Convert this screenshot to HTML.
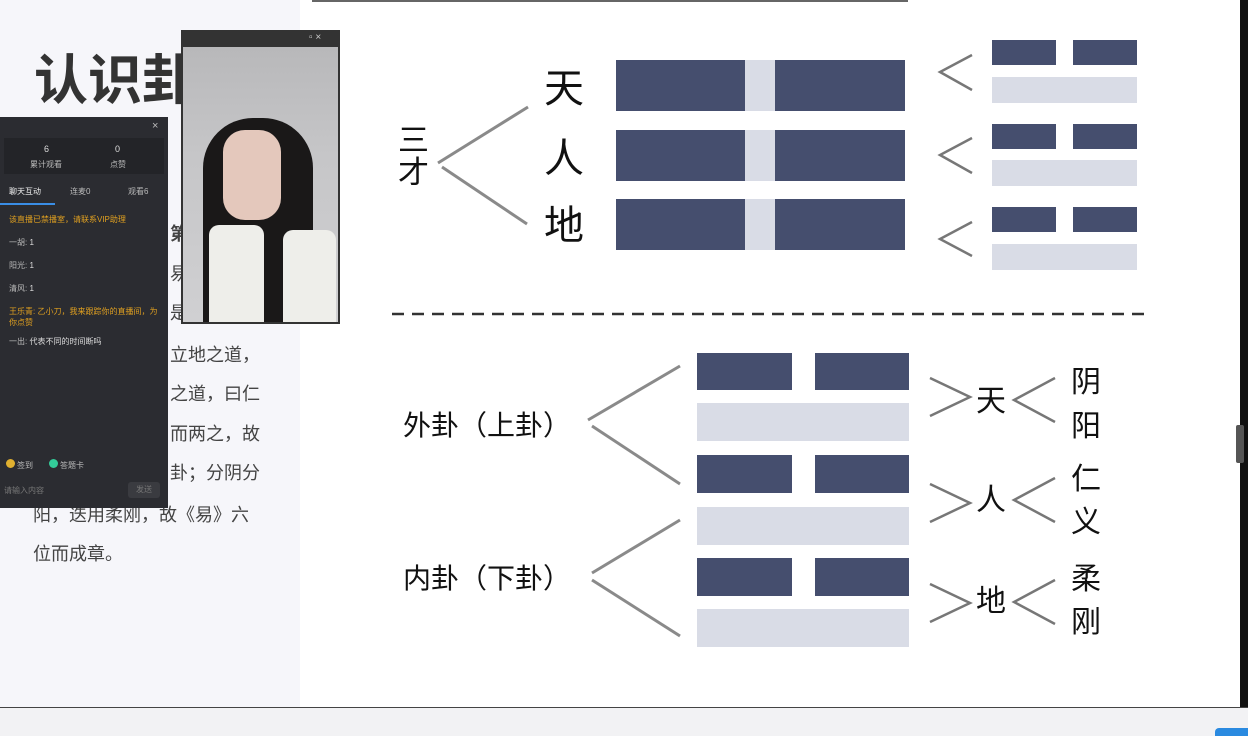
<!DOCTYPE html>
<html><head><meta charset="utf-8"><style>
*{margin:0;padding:0;box-sizing:border-box}
body{width:1248px;height:736px;position:relative;overflow:hidden;background:#fff;font-family:"Liberation Sans","Noto Sans CJK SC",sans-serif}
.a{position:absolute}
.d{position:absolute;background:#454e6e}
.l{position:absolute;background:#d9dce6}
.t{position:absolute;color:#111;white-space:nowrap;line-height:1}
.bt{position:absolute;color:#444;font-size:18px;white-space:nowrap;line-height:1}
</style></head><body>
<div class="a" style="left:0;top:0;width:300px;height:708px;background:#f6f6fa"></div>
<div class="a" style="left:312px;top:0;width:596px;height:2px;background:#666"></div>
<div class="a" style="left:1240px;top:0;width:8px;height:708px;background:#111"></div>
<div class="a" style="left:1236px;top:425px;width:8px;height:38px;background:#555;border-radius:2px"></div>
<div class="a" style="left:0;top:707px;width:1248px;height:29px;background:#f2f2f4;border-top:1px solid #444"></div>
<div class="a" style="left:1215px;top:728px;width:33px;height:8px;background:#2a8ae0;border-radius:4px 0 0 0"></div>

<div class="t" style="left:34px;top:54px;font-size:54px;font-weight:bold;color:#333">认识卦</div>
<div class="bt" style="left:170px;top:346px">立地之道，</div>
<div class="bt" style="left:170px;top:385px">之道，曰仁</div>
<div class="bt" style="left:170px;top:425px">而两之，故</div>
<div class="bt" style="left:170px;top:464px">卦；分阴分</div>
<div class="bt" style="left:33px;top:506px">阳，迭用柔刚，故《易》六</div>
<div class="bt" style="left:33px;top:545px">位而成章。</div>
<div class="bt" style="left:170px;top:265px">易</div>
<div class="bt" style="left:170px;top:304px">是</div>
<div class="bt" style="left:170px;top:225px;font-weight:bold">第</div>

<div class="a" style="left:0;top:117px;width:168px;height:391px;background:#2b2c31;color:#bbb;font-size:8px">
 <div class="a" style="left:152px;top:3px;font-size:11px">×</div>
 <div class="a" style="left:4px;top:21px;width:160px;height:36px;background:#232428"></div>
 <div class="a" style="left:44px;top:27px;color:#ddd;font-size:9px">6</div>
 <div class="a" style="left:30px;top:42px">累计观看</div>
 <div class="a" style="left:115px;top:27px;color:#ddd;font-size:9px">0</div>
 <div class="a" style="left:110px;top:42px">点赞</div>
 <div class="a" style="left:9px;top:69px;color:#eee">聊天互动</div>
 <div class="a" style="left:70px;top:69px">连麦0</div>
 <div class="a" style="left:128px;top:69px">观看6</div>
 <div class="a" style="left:0;top:86px;width:55px;height:2px;background:#3a8ee6"></div>
 <div class="a" style="left:9px;top:97px;color:#e0a020">该直播已禁播室，请联系VIP助理</div>
 <div class="a" style="left:9px;top:120px">一胡: <span style="color:#ddd">1</span></div>
 <div class="a" style="left:9px;top:143px">阳光: <span style="color:#ddd">1</span></div>
 <div class="a" style="left:9px;top:166px">清风: <span style="color:#ddd">1</span></div>
 <div class="a" style="left:9px;top:189px;color:#e0a020;width:150px;white-space:normal">王乐青: 乙小刀，我来跟踪你的直播间，为你点赞</div>
 <div class="a" style="left:9px;top:219px">一出: <span style="color:#ddd">代表不同的时间断吗</span></div>
 <div class="a" style="left:6px;top:342px;width:9px;height:9px;border-radius:50%;background:#e0b030"></div>
 <div class="a" style="left:17px;top:343px">签到</div>
 <div class="a" style="left:49px;top:342px;width:9px;height:9px;border-radius:50%;background:#3c9"></div>
 <div class="a" style="left:60px;top:343px">答题卡</div>
 <div class="a" style="left:4px;top:368px;color:#777">请输入内容</div>
 <div class="a" style="left:128px;top:365px;width:32px;height:16px;background:#3a3b40;border-radius:3px;color:#777;text-align:center;line-height:16px">发送</div>
</div>

<div class="a" style="left:181px;top:30px;width:159px;height:294px;background:#333">
 <div class="a" style="left:128px;top:2px;color:#ccc;font-size:10px">▫ ×</div>
 <div class="a" style="left:2px;top:17px;width:155px;height:275px;background:linear-gradient(#b8b8ba,#c6c6c8 40%,#d0d0d2)"></div>
 <div class="a" style="left:22px;top:88px;width:110px;height:204px;background:#1a1818;border-radius:50px 50px 0 0"></div>
 <div class="a" style="left:42px;top:100px;width:58px;height:90px;background:#e4c8bc;border-radius:22px"></div>
 <div class="a" style="left:28px;top:195px;width:55px;height:97px;background:#eeeeea;border-radius:10px 10px 0 0"></div>
 <div class="a" style="left:102px;top:200px;width:53px;height:92px;background:#eeeeea;border-radius:10px 10px 0 0"></div>
</div>

<!-- top section -->
<div class="t" style="left:398px;top:125px;font-size:31px;line-height:32px;width:32px">三<br>才</div>
<svg class="a" style="left:0;top:0" width="1248" height="708">
 <g stroke="#8a8a8a" stroke-width="3" fill="none">
  <line x1="438" y1="163" x2="528" y2="107"/><line x1="442" y1="167" x2="527" y2="224"/>
  <line x1="588" y1="420" x2="680" y2="366"/><line x1="592" y1="426" x2="680" y2="484"/>
  <line x1="592" y1="573" x2="680" y2="520"/><line x1="592" y1="580" x2="680" y2="636"/>
 </g>
 <g stroke="#777" stroke-width="2.5" fill="none">
  <polyline points="972,55 940,72 972,90"/><polyline points="972,138 940,155 972,173"/><polyline points="972,222 940,239 972,256"/>
  <polyline points="930,378 970,397 930,416"/><polyline points="930,484 970,503 930,522"/><polyline points="930,584 970,603 930,622"/>
  <polyline points="1055,378 1014,400 1055,422"/><polyline points="1055,478 1014,500 1055,522"/><polyline points="1055,580 1014,602 1055,624"/>
 </g>
 <line x1="392" y1="314" x2="1152" y2="314" stroke="#333" stroke-width="2.5" stroke-dasharray="12 8"/>
</svg>
<div class="t" style="left:544px;top:69px;font-size:40px">天</div>
<div class="t" style="left:544px;top:139px;font-size:40px">人</div>
<div class="t" style="left:544px;top:206px;font-size:40px">地</div>

<div class="d" style="left:616px;top:60px;width:129px;height:51px"></div><div class="l" style="left:745px;top:60px;width:30px;height:51px"></div><div class="d" style="left:775px;top:60px;width:130px;height:51px"></div>
<div class="d" style="left:616px;top:130px;width:129px;height:51px"></div><div class="l" style="left:745px;top:130px;width:30px;height:51px"></div><div class="d" style="left:775px;top:130px;width:130px;height:51px"></div>
<div class="d" style="left:616px;top:199px;width:129px;height:51px"></div><div class="l" style="left:745px;top:199px;width:30px;height:51px"></div><div class="d" style="left:775px;top:199px;width:130px;height:51px"></div>

<div class="d" style="left:992px;top:40px;width:64px;height:25px"></div><div class="d" style="left:1073px;top:40px;width:64px;height:25px"></div><div class="l" style="left:992px;top:77px;width:145px;height:26px"></div>
<div class="d" style="left:992px;top:124px;width:64px;height:25px"></div><div class="d" style="left:1073px;top:124px;width:64px;height:25px"></div><div class="l" style="left:992px;top:160px;width:145px;height:26px"></div>
<div class="d" style="left:992px;top:207px;width:64px;height:25px"></div><div class="d" style="left:1073px;top:207px;width:64px;height:25px"></div><div class="l" style="left:992px;top:244px;width:145px;height:26px"></div>

<!-- bottom section -->
<div class="t" style="left:403px;top:412px;font-size:28px">外卦（上卦）</div>
<div class="t" style="left:403px;top:565px;font-size:28px">内卦（下卦）</div>
<div class="d" style="left:697px;top:353px;width:95px;height:37px"></div><div class="d" style="left:815px;top:353px;width:94px;height:37px"></div><div class="l" style="left:697px;top:403px;width:212px;height:38px"></div>
<div class="d" style="left:697px;top:455px;width:95px;height:38px"></div><div class="d" style="left:815px;top:455px;width:94px;height:38px"></div><div class="l" style="left:697px;top:507px;width:212px;height:38px"></div>
<div class="d" style="left:697px;top:558px;width:95px;height:38px"></div><div class="d" style="left:815px;top:558px;width:94px;height:38px"></div><div class="l" style="left:697px;top:609px;width:212px;height:38px"></div>

<div class="t" style="left:976px;top:387px;font-size:30px">天</div>
<div class="t" style="left:976px;top:486px;font-size:30px">人</div>
<div class="t" style="left:976px;top:587px;font-size:30px">地</div>
<div class="t" style="left:1071px;top:368px;font-size:30px">阴</div>
<div class="t" style="left:1071px;top:412px;font-size:30px">阳</div>
<div class="t" style="left:1071px;top:465px;font-size:30px">仁</div>
<div class="t" style="left:1071px;top:508px;font-size:30px">义</div>
<div class="t" style="left:1071px;top:565px;font-size:30px">柔</div>
<div class="t" style="left:1071px;top:608px;font-size:30px">刚</div>
</body></html>
